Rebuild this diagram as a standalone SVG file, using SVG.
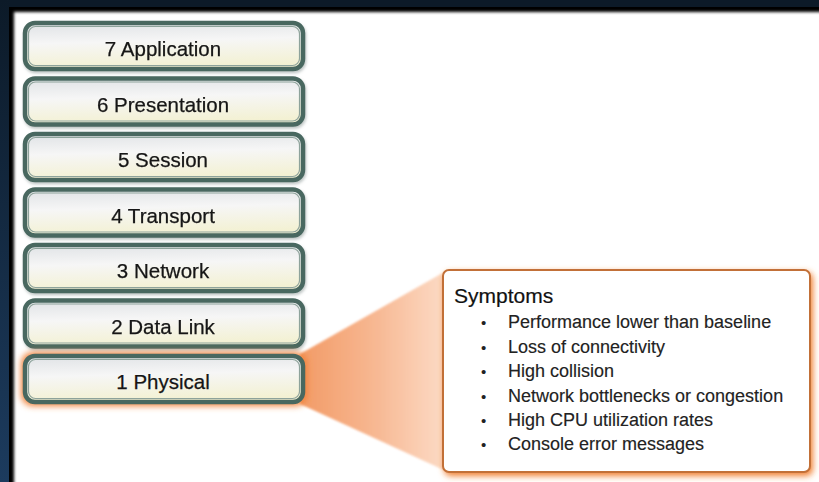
<svg xmlns="http://www.w3.org/2000/svg" width="819" height="482" viewBox="0 0 819 482">
  <defs>
    <linearGradient id="layerFill" x1="0" y1="0" x2="0.15" y2="1">
      <stop offset="0" stop-color="#dfe2e5"/>
      <stop offset="0.45" stop-color="#f6f6f6"/>
      <stop offset="1" stop-color="#f3f1d3"/>
    </linearGradient>
    <linearGradient id="funnelFill" x1="0" y1="0" x2="1" y2="0">
      <stop offset="0" stop-color="#f2935a"/>
      <stop offset="0.5" stop-color="#f7b188"/>
      <stop offset="1" stop-color="#fcd9c2"/>
    </linearGradient>
    <linearGradient id="leftStrip" x1="0" y1="0" x2="0" y2="1">
      <stop offset="0" stop-color="#0c1a28"/>
      <stop offset="1" stop-color="#1c3b5e"/>
    </linearGradient>
    <filter id="soft" x="-5%" y="-5%" width="110%" height="110%">
      <feGaussianBlur stdDeviation="1.6"/>
    </filter>
    <filter id="layerShadow" x="-5%" y="-20%" width="110%" height="150%">
      <feDropShadow dx="1" dy="2" stdDeviation="1.5" flood-color="#6f7f7a" flood-opacity="0.45"/>
    </filter>
    <filter id="glow" x="-10%" y="-40%" width="120%" height="180%">
      <feGaussianBlur stdDeviation="3"/>
    </filter>
    <filter id="panelGlow" x="-5%" y="-5%" width="110%" height="115%">
      <feDropShadow dx="2" dy="3" stdDeviation="3" flood-color="#f07a28" flood-opacity="0.95"/>
    </filter>
    <filter id="funnelSoft" x="-5%" y="-5%" width="110%" height="110%">
      <feGaussianBlur stdDeviation="0.8"/>
    </filter>
  </defs>
  <style>
    .frame { fill: url(#layerFill); stroke: #486860; stroke-width: 4.5; }
    .inner { fill: none; stroke: #8ea39b; stroke-width: 1.2; }
    .label { font-family: "Liberation Sans", Arial, sans-serif; font-size: 20.5px; fill: #151515; stroke: #151515; stroke-width: 0.25; text-anchor: middle; }
    .head { font-family: "Liberation Sans", Arial, sans-serif; font-size: 21px; fill: #111; stroke: #111; stroke-width: 0.2; }
    .item { font-family: "Liberation Sans", Arial, sans-serif; font-size: 18px; fill: #222; stroke: #222; stroke-width: 0.15; }
    .dot { font-family: "Liberation Sans", Arial, sans-serif; font-size: 15px; fill: #222; }
  </style>

  <!-- dark surround and white panel -->
  <rect x="0" y="0" width="819" height="482" fill="#0c1a28"/>
  <rect x="0" y="0" width="10" height="482" fill="url(#leftStrip)"/>
  <rect x="9" y="7" width="830" height="490" fill="#000"/>
  <rect x="14" y="12" width="830" height="490" fill="#ffffff" filter="url(#soft)"/>

  <!-- connector: funnel from layer 1 to the symptoms panel -->
  <g id="connectors">
    <polygon points="300,354 446,271 446,471 300,404" fill="url(#funnelFill)" opacity="0.92" filter="url(#funnelSoft)"/>
  </g>

  <g id="layer7" filter="url(#layerShadow)">
    <rect class="frame" x="25" y="23" width="278" height="46" rx="10"/>
    <rect class="inner" x="28.5" y="26.5" width="271" height="39" rx="7"/>
    <text class="label" x="163" y="56">7 Application</text>
  </g>
  <g id="layer6" filter="url(#layerShadow)">
    <rect class="frame" x="25" y="78.5" width="278" height="46" rx="10"/>
    <rect class="inner" x="28.5" y="82" width="271" height="39" rx="7"/>
    <text class="label" x="163" y="111.5">6 Presentation</text>
  </g>
  <g id="layer5" filter="url(#layerShadow)">
    <rect class="frame" x="25" y="134" width="278" height="46" rx="10"/>
    <rect class="inner" x="28.5" y="137.5" width="271" height="39" rx="7"/>
    <text class="label" x="163" y="167">5 Session</text>
  </g>
  <g id="layer4" filter="url(#layerShadow)">
    <rect class="frame" x="25" y="189.5" width="278" height="46" rx="10"/>
    <rect class="inner" x="28.5" y="193" width="271" height="39" rx="7"/>
    <text class="label" x="163" y="222.5">4 Transport</text>
  </g>
  <g id="layer3" filter="url(#layerShadow)">
    <rect class="frame" x="25" y="245" width="278" height="46" rx="10"/>
    <rect class="inner" x="28.5" y="248.5" width="271" height="39" rx="7"/>
    <text class="label" x="163" y="278">3 Network</text>
  </g>
  <g id="layer2" filter="url(#layerShadow)">
    <rect class="frame" x="25" y="300.5" width="278" height="46" rx="10"/>
    <rect class="inner" x="28.5" y="304" width="271" height="39" rx="7"/>
    <text class="label" x="163" y="333.5">2 Data Link</text>
  </g>
  <g id="layer1">
    <rect x="21" y="352" width="286" height="54" rx="12" fill="#f0843c" filter="url(#glow)"/>
    <rect class="frame" x="25" y="356" width="278" height="46" rx="10"/>
    <rect class="inner" x="28.5" y="359.5" width="271" height="39" rx="7"/>
    <text class="label" x="163" y="389">1 Physical</text>
  </g>

  <g id="symptoms">
    <rect x="443" y="270" width="367" height="202" rx="6" fill="#ffffff" stroke="#c27037" stroke-width="2" filter="url(#panelGlow)"/>
    <text class="head" x="454" y="303">Symptoms</text>
    <text class="dot" x="481" y="328">•</text>
    <text class="item" x="508" y="328">Performance lower than baseline</text>
    <text class="dot" x="481" y="353">•</text>
    <text class="item" x="508" y="353">Loss of connectivity</text>
    <text class="dot" x="481" y="377">•</text>
    <text class="item" x="508" y="377">High collision</text>
    <text class="dot" x="481" y="402">•</text>
    <text class="item" x="508" y="402">Network bottlenecks or congestion</text>
    <text class="dot" x="481" y="426">•</text>
    <text class="item" x="508" y="426">High CPU utilization rates</text>
    <text class="dot" x="481" y="450">•</text>
    <text class="item" x="508" y="450">Console error messages</text>
  </g>
</svg>
